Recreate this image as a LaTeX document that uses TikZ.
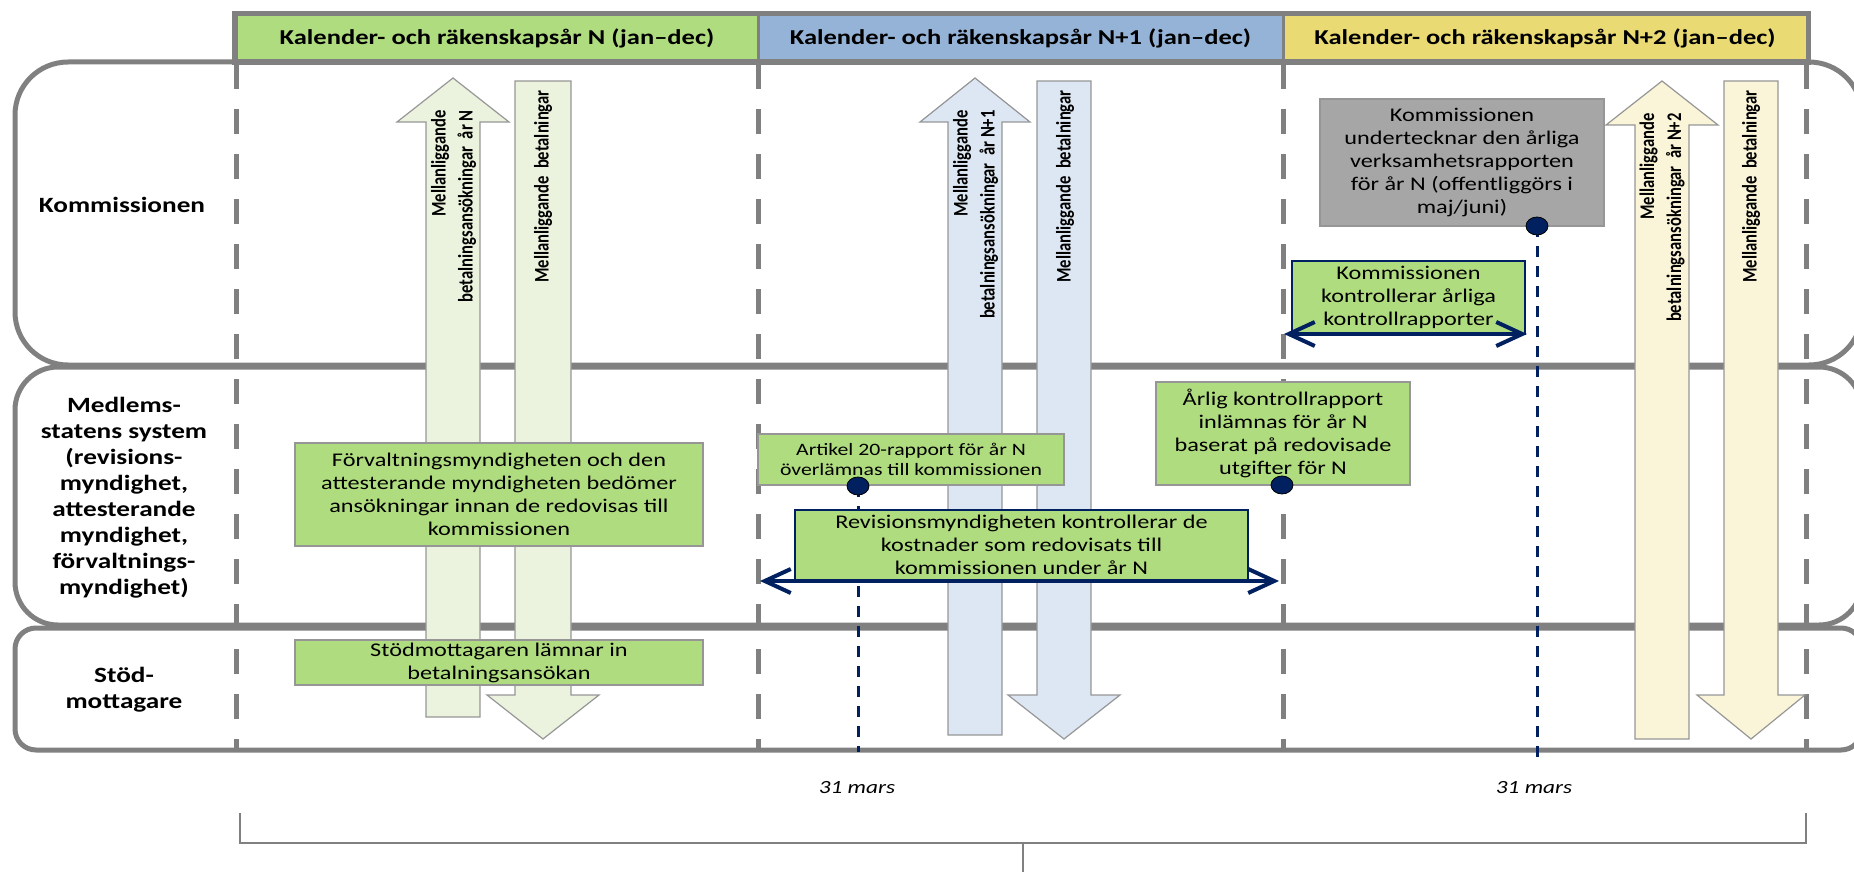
\documentclass[tikz,border=0pt]{standalone}
\usepackage{fontspec}
\setmainfont[FakeStretch=1.25]{Carlito}
\newfontfamily\barfont{Carlito}
\usetikzlibrary{arrows.meta,shapes.geometric}

\definecolor{yeargreen}{RGB}{176,220,128}
\definecolor{yearblue}{RGB}{149,179,215}
\definecolor{yearyellow}{RGB}{233,218,115}
\definecolor{palegreen}{RGB}{235,243,222}
\definecolor{paleblue}{RGB}{221,231,243}
\definecolor{paleyellow}{RGB}{250,245,217}
\definecolor{lanegray}{RGB}{128,128,128}
\definecolor{edgegray}{RGB}{150,150,150}
\definecolor{notegray}{RGB}{166,166,166}
\definecolor{navy}{RGB}{0,32,96}

\begin{document}
\begin{tikzpicture}[x=0.5pt, y=-0.5pt,
  lane/.style={draw=lanegray, line width=2.5pt},
  yearcell/.style={draw=lanegray, line width=1.5pt, minimum height=23pt, inner sep=0pt,
                   font=\bfseries\fontsize{10.6}{13}\selectfont},
  lanelbl/.style={align=center, inner sep=0pt, font=\bfseries\fontsize{10.9}{13}\selectfont},
  divider/.style={draw=lanegray, line width=2.5pt, dash pattern=on 12.5pt off 10pt},
  barfill/.style={draw=edgegray, line width=0.6pt},
  bartext/.style={rotate=90, yscale=1.25, anchor=east, inner sep=0pt, align=right,
                  font=\barfont\bfseries\fontsize{8.3}{10.8}\selectfont},
  actbox/.style={draw=edgegray, line width=0.8pt, fill=yeargreen, align=center, inner sep=0pt,
                 font=\fontsize{9.7}{11.5}\selectfont},
  navybox/.style={actbox, draw=navy},
  graybox/.style={actbox, fill=notegray},
  navydot/.style={ellipse, draw=black, line width=0.4pt, fill=navy,
                  minimum width=11pt, minimum height=9pt, inner sep=0pt},
  navydash/.style={draw=navy, line width=1.5pt, dash pattern=on 5.5pt off 4.5pt},
  spanarrow/.style={draw=navy, line width=2pt,
                    {Straight Barb[length=13pt,width=12pt]}-{Straight Barb[length=13pt,width=12pt]}},
  datelbl/.style={font=\itshape\fontsize{9.3}{11}\selectfont},
  bracketline/.style={draw=lanegray, line width=1pt}]
  \clip (0,0) rectangle (1854,872);

  \draw[lane, rounded corners=26.5pt] (15,62) rectangle (1862,365);
  \draw[lane, rounded corners=21.5pt] (15,367) rectangle (1862,625);
  \draw[lane, rounded corners=10.5pt] (15,628) rectangle (1862,750);

  \node[yearcell, fill=yeargreen, minimum width=261pt] (yN) at (497,38) {Kalender- och räkenskapsår N (jan–dec)};
  \node[yearcell, fill=yearblue, minimum width=262.5pt] (yN1) at (1020.5,38) {Kalender- och räkenskapsår N+1 (jan–dec)};
  \node[yearcell, fill=yearyellow, minimum width=262pt] (yN2) at (1545,38) {Kalender- och räkenskapsår N+2 (jan–dec)};
  \draw[lanegray, line width=2.5pt] (yN.north west) rectangle (yN2.south east);

  \foreach \x in {236,758,1283,1806} \draw[divider] (\x,64) -- (\x,750);

  \draw[barfill, fill=palegreen] (426,717) -- (426,122) -- (397,122) -- (453,78) -- (509,122) -- (480,122) -- (480,717) -- cycle;
  \draw[barfill, fill=palegreen] (515,81) -- (571,81) -- (571,695) -- (599,695) -- (543,739) -- (487,695) -- (515,695) -- cycle;
  \draw[barfill, fill=paleblue] (948,735) -- (948,122) -- (920,122) -- (975,78) -- (1030,122) -- (1002,122) -- (1002,735) -- cycle;
  \draw[barfill, fill=paleblue] (1037,81) -- (1091,81) -- (1091,695) -- (1120,695) -- (1064,739) -- (1008,695) -- (1037,695) -- cycle;
  \draw[barfill, fill=paleyellow] (1635,739) -- (1635,125) -- (1606,125) -- (1662,81) -- (1718,125) -- (1689,125) -- (1689,739) -- cycle;
  \draw[barfill, fill=paleyellow] (1724,81) -- (1778,81) -- (1778,695) -- (1805,695) -- (1751,739) -- (1697,695) -- (1724,695) -- cycle;

  \node[bartext] (upN) at (453.5,110) {Mellanliggande\\betalningsansökningar~ år N};
  \node[bartext] (dnN) at (543,90) {Mellanliggande~ betalningar};
  \node[bartext] (upN1) at (975.5,110) {Mellanliggande\\betalningsansökningar~ år N+1};
  \node[bartext] (dnN1) at (1065,90) {Mellanliggande~ betalningar};
  \node[bartext] (upN2) at (1662,113) {Mellanliggande\\betalningsansökningar~ år N+2};
  \node[bartext] (dnN2) at (1751,90) {Mellanliggande~ betalningar};

  \coordinate (pA) at (858,486);
  \coordinate (pG) at (1537,226);
  \coordinate (eA) at (858,752);
  \coordinate (eG) at (1537,759);
  \draw[navydash] (pA) -- (eA);
  \draw[navydash] (pG) -- (eG);

  \node[actbox, minimum width=204pt, minimum height=51.5pt] (assess) at (499,494.5) {Förvaltningsmyndigheten och den\\attesterande myndigheten bedömer\\ansökningar innan de redovisas till\\kommissionen};
  \node[actbox, minimum width=204pt, minimum height=22.5pt] (claim) at (499,662.5) {Stödmottagaren lämnar in\\betalningsansökan};
  \node[actbox, minimum width=153pt, minimum height=25.5pt, font=\fontsize{8.7}{10}\selectfont] (art20) at (911,459.5) {Artikel 20-rapport för år N\\överlämnas till kommissionen};
  \node[navybox, minimum width=226.5pt, minimum height=35pt] (audit) at (1021.5,545) {Revisionsmyndigheten kontrollerar de\\kostnader som redovisats till\\kommissionen under år N};
  \node[actbox, minimum width=127pt, minimum height=51.5pt] (annual) at (1283,433.5) {Årlig kontrollrapport\\inlämnas för år N\\baserat på redovisade\\utgifter för N};
  \node[graybox, minimum width=142pt, minimum height=63.5pt] (sign) at (1462,162.5) {Kommissionen\\undertecknar den årliga\\verksamhetsrapporten\\för år N (offentliggörs i\\maj/juni)};
  \node[navybox, minimum width=116.5pt, minimum height=36.5pt] (check) at (1408.5,297.5) {Kommissionen\\kontrollerar årliga\\kontrollrapporter};

  \coordinate (aL) at (760,581);
  \coordinate (aR) at (1279,581);
  \coordinate (cL) at (1284,334);
  \coordinate (cR) at (1527,334);
  \draw[spanarrow] (aL) -- (aR);
  \draw[spanarrow] (cL) -- (cR);

  \node[navydot] (dA) at (pA) {};
  \node[navydot] (dG) at (pG) {};
  \node[navydot] (dR) at (1282,485) {};

  \node[lanelbl] (kom) at (122,205) {Kommissionen};
  \node[lanelbl] (ms) at (124,497.5) {Medlems-\\statens system\\(revisions-\\myndighet,\\attesterande\\myndighet,\\förvaltnings-\\myndighet)};
  \node[lanelbl] (stod) at (124,690) {Stöd-\\mottagare};

  \node[datelbl] (m1) at (857,788) {31 mars};
  \node[datelbl] (m2) at (1534,788) {31 mars};
  \coordinate (b1) at (240,813);
  \coordinate (b2) at (240,843);
  \coordinate (b3) at (1806,843);
  \coordinate (b4) at (1806,813);
  \coordinate (s1) at (1023,843);
  \coordinate (s2) at (1023,872);
  \draw[bracketline] (b1) -- (b2) -- (b3) -- (b4);
  \draw[bracketline] (s1) -- (s2);
\end{tikzpicture}
\end{document}
